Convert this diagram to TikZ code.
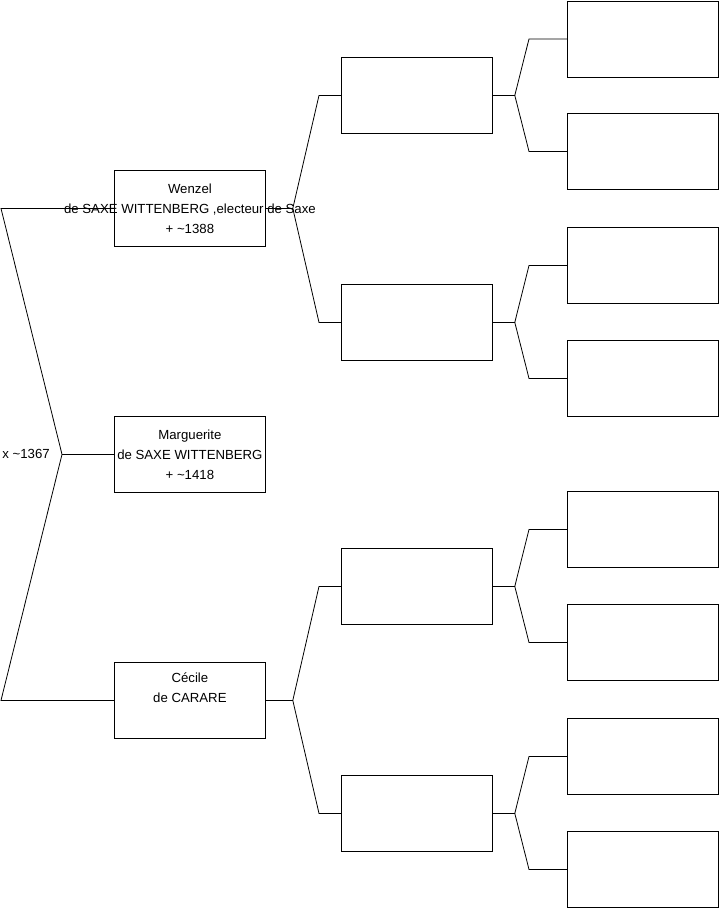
\documentclass[tikz,border=0pt]{standalone}
\usepackage{fontspec}
\setmainfont{Liberation Sans}
\usetikzlibrary{positioning}
\begin{document}
\begin{tikzpicture}[x=0.75pt,y=-0.75pt,
    person/.style={draw, line width=0.6pt, minimum width=113.25pt, minimum height=57pt, inner sep=0pt, anchor=north west},
    info/.style={align=center, font=\fontsize{9.9}{15}\selectfont, inner sep=0pt},
    link/.style={line width=0.6pt}]
  \useasboundingbox (0,0) rectangle (719,908);
  % generation 1
  \node[person] (wenzel) at (114,170) {};
  \node[person] (marg) at (114,416) {};
  \node[person] (cecile) at (114,662) {};
  \node[info] (wenzeltxt) at (wenzel.center) {Wenzel\\de SAXE WITTENBERG ,electeur de Saxe\\+ \textasciitilde1388};
  \node[info] (margtxt) at (marg.center) {Marguerite\\de SAXE WITTENBERG\\+ \textasciitilde1418};
  \node[info] (cecitxt) at ([yshift=9.75pt]cecile.center) {Cécile\\de CARARE};
  % generation 2
  \foreach \y [count=\i] in {57,284,548,775}
    \node[person] (f\i) at (341,\y) {};
  % generation 3
  \foreach \y [count=\i] in {0.5,113,227,340,491,604,718,831}
    \node[person] (g\i) at (567,\y) {};
  % marriage
  \coordinate (m) at (marg.west -| 62,0);
  \coordinate (top) at (wenzel.west -| 1,0);
  \coordinate (bot) at (cecile.west -| 1,0);
  \draw[link] (wenzel.west) -- (top) -- (m) -- (bot) -- (cecile.west);
  \draw[link] (m) -- (marg.west);
  \node[info, anchor=east] (wed) at ([xshift=-9pt]m) {x \textasciitilde1367};
  % parents of generation 1
  \foreach \c/\a/\b in {wenzel/1/2, cecile/3/4} {
    \draw[link] (\c.east) -- ++(27,0) coordinate (k\c) -- ([xshift=-16.5pt]f\a.west) -- (f\a.west);
    \draw[link] (k\c) -- ([xshift=-16.5pt]f\b.west) -- (f\b.west);
  }
  % parents of generation 2
  \foreach \i/\a/\b in {1/1/2, 2/3/4, 3/5/6, 4/7/8} {
    \draw[link] (f\i.east) -- ++(22,0) coordinate (k\i) -- ([xshift=-28.5pt]g\a.west) -- (g\a.west);
    \draw[link] (k\i) -- ([xshift=-28.5pt]g\b.west) -- (g\b.west);
  }
\end{tikzpicture}
\end{document}
